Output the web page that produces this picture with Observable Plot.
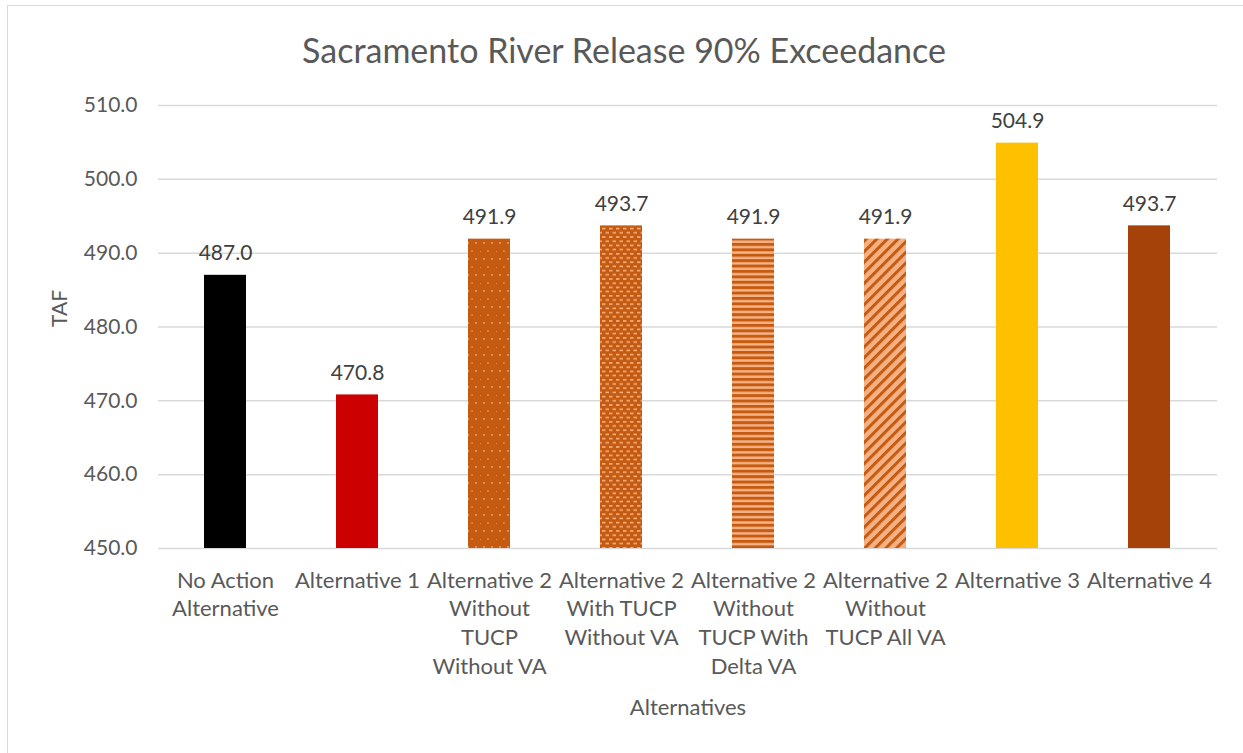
<!DOCTYPE html>
<html><head><meta charset="utf-8">
<script src="https://cdn.jsdelivr.net/npm/d3@7"></script>
<script src="https://cdn.jsdelivr.net/npm/@observablehq/plot@0.6"></script>
<style>
body{margin:0;background:#fff;}
#wrap{position:relative;width:1243px;height:753px;overflow:hidden;}
#border{position:absolute;left:7px;top:5px;width:1300px;height:800px;border:1.5px solid #d9d9d9;box-sizing:border-box;}
#chart{position:absolute;left:0;top:0;}
</style></head><body><div id="wrap"><div id="border"></div><div id="chart"></div></div>
<script>
const title = "Sacramento River Release 90% Exceedance";
const yLabel = "TAF";
const xLabel = "Alternatives";
const categories = [
  "No Action Alternative",
  "Alternative 1",
  "Alternative 2 Without TUCP Without VA",
  "Alternative 2 With TUCP Without VA",
  "Alternative 2 Without TUCP With Delta VA",
  "Alternative 2 Without TUCP All VA",
  "Alternative 3",
  "Alternative 4"
];
const tickLabels = [
  "No Action\nAlternative",
  "Alternative 1",
  "Alternative 2\nWithout\nTUCP\nWithout VA",
  "Alternative 2\nWith TUCP\nWithout VA",
  "Alternative 2\nWithout\nTUCP With\nDelta VA",
  "Alternative 2\nWithout\nTUCP All VA",
  "Alternative 3",
  "Alternative 4"
];
const values = [487.0, 470.8, 491.9, 493.7, 491.9, 491.9, 504.9, 493.7];
const yTicks = [450, 460, 470, 480, 490, 500, 510];
const barFills = ["#000000", "#CC0000", "url(#pDots)", "url(#pBrick)", "url(#pHoriz)", "url(#pDiag)", "#FFC000", "#A5420A"];

const data = categories.map((c, i) => ({cat: c, value: values[i], fill: barFills[i]}));
const font = "Lato, 'Open Sans', sans-serif";
const textColor = "#595959";

const chart = Plot.plot({
  width: 1243, height: 753,
  marginLeft: 158, marginRight: 26, marginTop: 105, marginBottom: 205,
  style: {fontFamily: font, fontSize: "21px", color: textColor, background: "transparent", overflow: "visible"},
  x: {domain: categories, paddingInner: 0.68, paddingOuter: 0.34, label: null},
  y: {domain: [450, 510], label: null},
  color: {type: "identity"},
  marks: [
    Plot.gridY(yTicks, {stroke: "#d9d9d9", strokeOpacity: 1, strokeWidth: 1.5}),
    Plot.axisY(yTicks, {tickSize: 0, tickPadding: 21, tickFormat: d => d.toFixed(1), fontSize: 21, fill: textColor, label: null}),
    Plot.axisX({tickSize: 0, tickPadding: 19, tickFormat: d => tickLabels[categories.indexOf(d)], lineHeight: 1.3, fontSize: 22, fill: textColor, label: null}),
    Plot.barY(data, {x: "cat", y1: 450, y2: "value", fill: "fill"}),
    Plot.text(data, {x: "cat", y: "value", text: d => d.value.toFixed(1), dy: -22, fill: "#404040", fontSize: 21}),
    Plot.text([title], {frameAnchor: "top", dx: -64, dy: -67, fontSize: 34, fill: textColor}),
    Plot.text([yLabel], {frameAnchor: "left", dx: -98, rotate: -90, fontSize: 21, fill: textColor}),
    Plot.text([xLabel], {frameAnchor: "bottom", dx: 0, dy: 166, fontSize: 22, fill: textColor})
  ]
});

const svgns = "http://www.w3.org/2000/svg";
const defs = document.createElementNS(svgns, "defs");
defs.innerHTML = `
  <pattern id="pDots" patternUnits="userSpaceOnUse" width="16" height="16">
    <rect width="16" height="16" fill="#C55A11"/>
    <circle cx="4" cy="3" r="1" fill="#F4B183" fill-opacity="0.8"/>
    <circle cx="12" cy="3" r="1" fill="#F4B183" fill-opacity="0.8"/>
    <rect x="7" y="10.5" width="2" height="1" fill="#F4B183" fill-opacity="0.8"/>
    <rect x="0" y="11" width="1" height="1" fill="#F4B183" fill-opacity="0.6"/>
  </pattern>
  <pattern id="pBrick" patternUnits="userSpaceOnUse" width="7" height="8.4">
    <rect width="7" height="8.4" fill="#C55A11"/>
    <rect x="0" y="1" width="3.5" height="1.6" fill="#F4B183"/>
    <rect x="3.5" y="5.2" width="3.5" height="1.6" fill="#F4B183"/>
  </pattern>
  <pattern id="pHoriz" patternUnits="userSpaceOnUse" width="8" height="5.4">
    <rect width="8" height="5.4" fill="#F4B183"/>
    <rect y="0" width="8" height="2.9" fill="#C55A11"/>
  </pattern>
  <pattern id="pDiag" patternUnits="userSpaceOnUse" width="7.5" height="7.5" patternTransform="rotate(45)">
    <rect width="7.5" height="7.5" fill="#F4B183"/>
    <rect x="0" width="3" height="7.5" fill="#C55A11"/>
  </pattern>`;
chart.insertBefore(defs, chart.firstChild);
document.getElementById("chart").appendChild(chart);
</script></body></html>
